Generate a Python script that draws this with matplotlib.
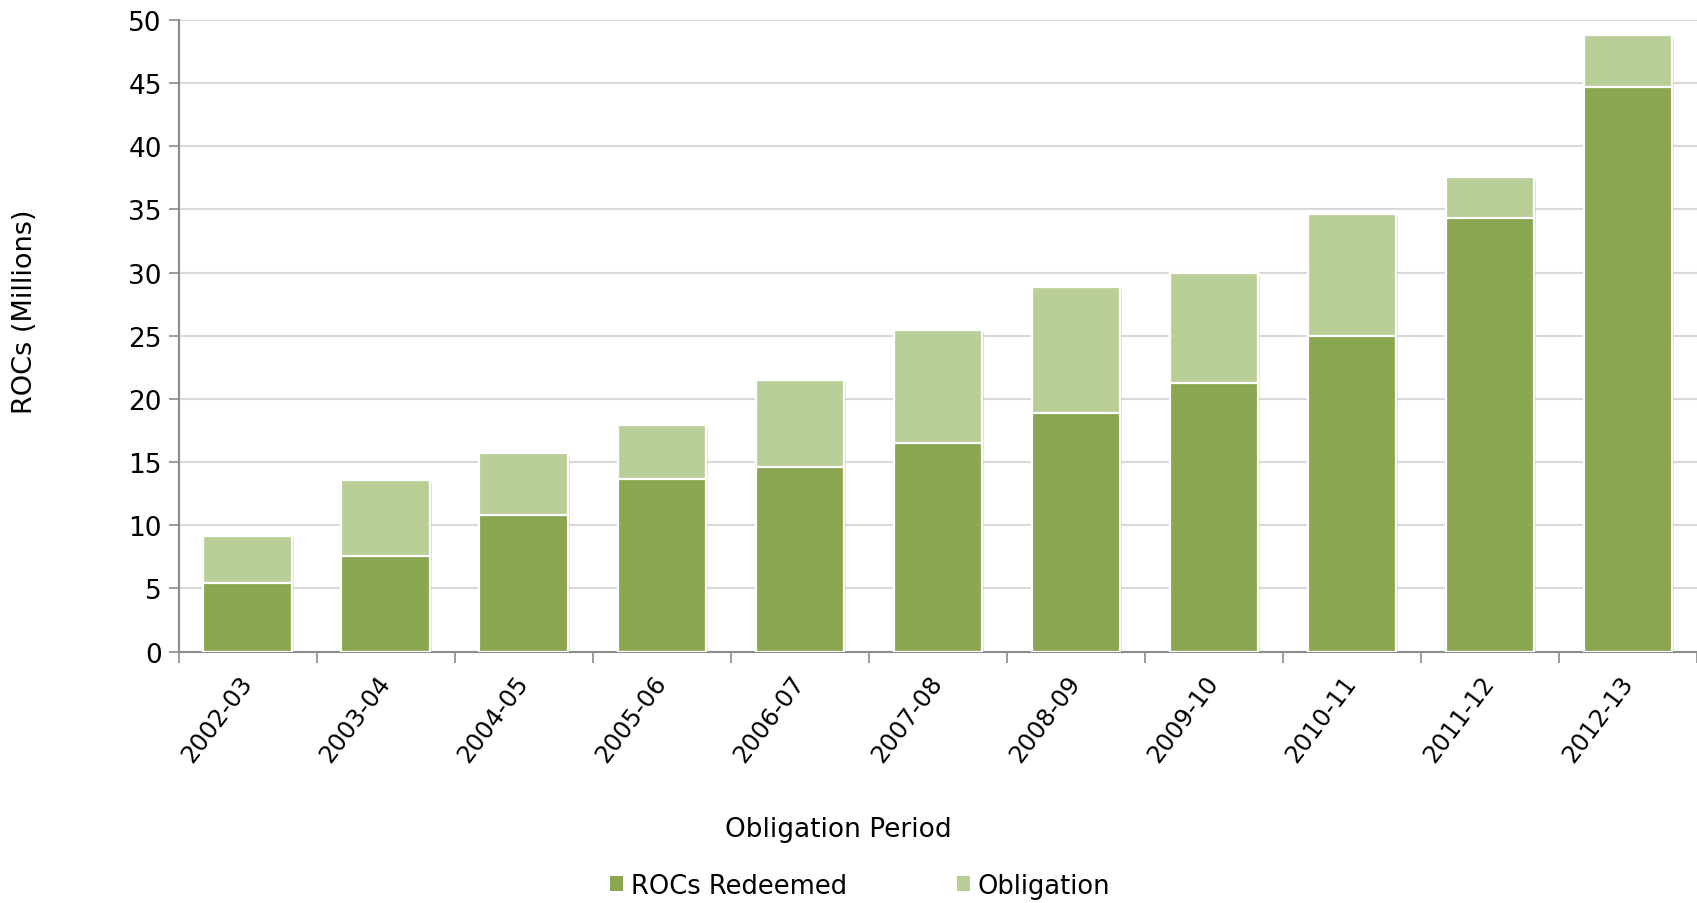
import matplotlib
matplotlib.use("Agg")
import matplotlib.pyplot as plt
import matplotlib.patheffects as pe
from matplotlib.patches import Patch
import numpy as np

# ROCs per obligation period (millions)
periods = ["2002-03", "2003-04", "2004-05", "2005-06", "2006-07", "2007-08",
           "2008-09", "2009-10", "2010-11", "2011-12", "2012-13"]
redeemed = [5.47, 7.60, 10.82, 13.66, 14.60, 16.48, 18.91, 21.28, 24.95, 34.35, 44.71]
obligation = [9.19, 13.55, 15.69, 17.95, 21.53, 25.46, 28.86, 29.96, 34.66, 37.58, 48.80]

dark_green = "#8aa650"
light_green = "#bacf97"

plt.rcParams["font.family"] = "DejaVu Sans"

fig = plt.figure(figsize=(16.97, 9.04), dpi=100)
ax = fig.add_axes([0.1052, 0.278, 0.8948, 0.699])

x = np.arange(len(periods))
shadow = [pe.SimplePatchShadow(offset=(1.5, -1.5), shadow_rgbFace="#000000", alpha=0.12),
          pe.Normal()]

# obligation drawn full height, redeemed overlaid from the axis
ax.bar(x, obligation, width=0.64, color=light_green, edgecolor="white",
       linewidth=1.6, zorder=3, path_effects=shadow)
ax.bar(x, redeemed, width=0.64, color=dark_green, edgecolor="white",
       linewidth=1.6, zorder=4)

ax.set_xlim(-0.5, len(periods) - 0.5)
ax.set_ylim(0, 50)
ax.set_yticks(range(0, 51, 5))
ax.tick_params(axis="y", labelsize=19, length=7, width=1.2, color="#8c8c8c", pad=5)

# category labels centred, boundary ticks as minor ticks
ax.set_xticks(x)
ax.set_xticklabels(periods, rotation=53, ha="right", va="center",
                   rotation_mode="anchor", fontsize=17.5)
ax.tick_params(axis="x", which="major", length=0, pad=19)
ax.set_xticks(np.arange(-0.5, len(periods), 1), minor=True)
ax.tick_params(axis="x", which="minor", length=8, width=1.2, color="#8c8c8c")

ax.grid(axis="y", color="#d9d9d9", linewidth=1.5, zorder=0)
ax.set_axisbelow(True)
for side in ["top", "right"]:
    ax.spines[side].set_visible(False)
for side in ["left", "bottom"]:
    ax.spines[side].set_color("#8c8c8c")
    ax.spines[side].set_linewidth(1.5)

fig.text(0.0145, 0.655, "ROCs (Millions)", rotation=90, ha="center", va="center", fontsize=19.5)
fig.text(0.494, 0.082, "Obligation Period", ha="center", va="center", fontsize=19)

handles = [Patch(facecolor=dark_green, label="ROCs Redeemed"),
           Patch(facecolor=light_green, label="Obligation")]
fig.legend(handles=handles, loc="center", bbox_to_anchor=(0.507, 0.019), ncol=2,
           frameon=False, fontsize=18.5, handlelength=0.5, handleheight=0.5,
           handletextpad=0.3, columnspacing=4.3)

fig.savefig("out.png", dpi=100)
